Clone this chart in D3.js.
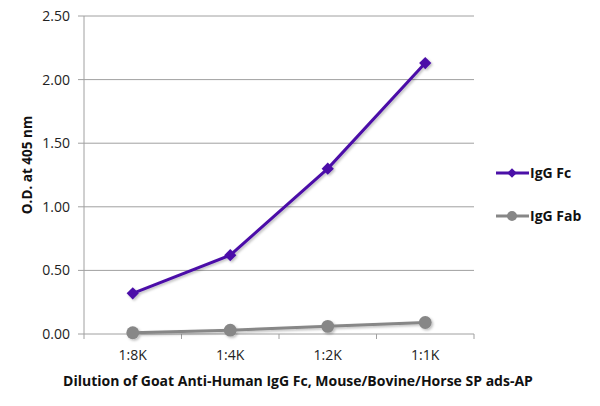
<!DOCTYPE html>
<html>
<head>
<meta charset="utf-8">
<script src="https://cdn.jsdelivr.net/npm/d3@7"></script>
<style>
  body { margin: 0; background: #fff; }
  text { font-family: "Open Sans", "Liberation Sans", sans-serif; }
</style>
</head>
<body>
<div id="chart"></div>
<script>
// datos del gráfico
const categories = ["1:8K", "1:4K", "1:2K", "1:1K"];
const iggFc = [0.32, 0.62, 1.30, 2.13];
const iggFab = [0.01, 0.03, 0.06, 0.09];
const yTicks = [0, 0.5, 1.0, 1.5, 2.0, 2.5];
const seriesNames = ["IgG Fc", "IgG Fab"];

const width = 600, height = 406;
const plotLeft = 84, plotRight = 474, plotTop = 16, plotBottom = 334;

const svg = d3.select("#chart").append("svg")
    .attr("width", width)
    .attr("height", height);

const x = d3.scaleBand().domain(categories).range([plotLeft, plotRight]);
const y = d3.scaleLinear().domain([0, 2.5]).range([plotBottom, plotTop]);

// lineas de la cuadricula
svg.selectAll("line.grid")
    .data(yTicks)
    .enter()
    .append("line")
    .attr("class", "grid")
    .attr("x1", plotLeft - 6)
    .attr("x2", plotRight)
    .attr("y1", d => y(d))
    .attr("y2", d => y(d))
    .attr("stroke", "#a0a0a0")
    .attr("stroke-width", 1);

// eje y
svg.append("line")
    .attr("x1", plotLeft).attr("x2", plotLeft)
    .attr("y1", plotTop).attr("y2", plotBottom)
    .attr("stroke", "#a0a0a0");

svg.selectAll("text.ytick")
    .data(yTicks)
    .enter()
    .append("text")
    .attr("class", "ytick")
    .attr("x", plotLeft - 14)
    .attr("y", d => y(d) + 5)
    .attr("text-anchor", "end")
    .attr("font-size", "14px")
    .attr("fill", "#222")
    .text(d => d3.format(".2f")(d));

// eje x con marcas
const xTickPos = categories.map(c => x(c)).concat([plotRight]);
svg.selectAll("line.xtick")
    .data(xTickPos)
    .enter()
    .append("line")
    .attr("class", "xtick")
    .attr("x1", d => d).attr("x2", d => d)
    .attr("y1", plotBottom).attr("y2", plotBottom + 5)
    .attr("stroke", "#a0a0a0");

svg.selectAll("text.xlabel")
    .data(categories)
    .enter()
    .append("text")
    .attr("class", "xlabel")
    .attr("x", d => x(d) + x.bandwidth() / 2)
    .attr("y", plotBottom + 26)
    .attr("text-anchor", "middle")
    .attr("font-size", "14px")
    .attr("fill", "#222")
    .text(d => d);

// titulos
svg.append("text")
    .attr("x", 298)
    .attr("y", 386)
    .attr("text-anchor", "middle")
    .attr("font-size", "14px")
    .attr("font-weight", "bold")
    .attr("fill", "#111")
    .text("Dilution of Goat Anti-Human IgG Fc, Mouse/Bovine/Horse SP ads-AP");

svg.append("text")
    .attr("transform", "translate(32,165) rotate(-90)")
    .attr("text-anchor", "middle")
    .attr("font-size", "13.5px")
    .attr("font-weight", "bold")
    .attr("fill", "#111")
    .text("O.D. at 405 nm");

// sombra
const defs = svg.append("defs");
const f = defs.append("filter").attr("id", "shadow").attr("x", "-20%").attr("y", "-20%").attr("width", "150%").attr("height", "150%");
f.append("feDropShadow").attr("dx", 1.5).attr("dy", 1.5).attr("stdDeviation", 1.2)
    .attr("flood-color", "#000").attr("flood-opacity", 0.25);

const series = [
    { name: seriesNames[0], values: iggFc, color: "#4b10a8", shape: d3.symbolSquare, size: 75, rot: 45 },
    { name: seriesNames[1], values: iggFab, color: "#878787", shape: d3.symbolCircle, size: 130, rot: 0 }
];

const line = d3.line()
    .x((d, i) => x(categories[i]) + x.bandwidth() / 2)
    .y(d => y(d));

series.forEach(s => {
    const g = svg.append("g").attr("filter", "url(#shadow)");
    g.append("path")
        .datum(s.values)
        .attr("d", line)
        .attr("fill", "none")
        .attr("stroke", s.color)
        .attr("stroke-width", 3);
    g.selectAll("path.pt")
        .data(s.values)
        .enter()
        .append("path")
        .attr("class", "pt")
        .attr("transform", (d, i) => "translate(" + (x(categories[i]) + x.bandwidth() / 2) + "," + y(d) + ") rotate(" + s.rot + ")")
        .attr("d", d3.symbol().type(s.shape).size(s.size))
        .attr("fill", s.color);
});

// leyenda
const legendY = [173, 216];
series.forEach((s, i) => {
    const g = svg.append("g");
    g.append("line")
        .attr("x1", 496).attr("x2", 529)
        .attr("y1", legendY[i]).attr("y2", legendY[i])
        .attr("stroke", s.color).attr("stroke-width", 3);
    g.append("path")
        .attr("transform", "translate(512," + legendY[i] + ") rotate(" + s.rot + ")")
        .attr("d", d3.symbol().type(s.shape).size(s.size * 0.6))
        .attr("fill", s.color);
    g.append("text")
        .attr("x", 530)
        .attr("y", legendY[i] + 5)
        .attr("font-size", "14px")
        .attr("font-weight", "bold")
        .attr("fill", "#111")
        .text(s.name);
});
</script>
</body>
</html>
